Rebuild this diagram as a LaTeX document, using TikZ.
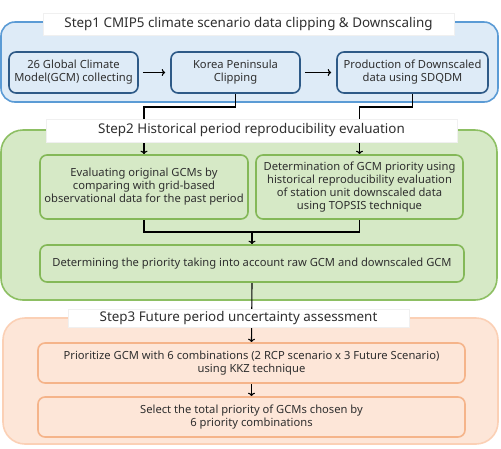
\documentclass[tikz,border=0pt]{standalone}
\usepackage{fontspec}
\setmainfont{Noto Sans}
\usetikzlibrary{arrows.meta}
\definecolor{bluefill}{HTML}{DEEBF7}
\definecolor{blueline}{HTML}{5B9BD5}
\definecolor{blueinner}{HTML}{2E5A87}
\definecolor{greenfill}{HTML}{D6E9C6}
\definecolor{greenline}{HTML}{8DBF63}
\definecolor{greeninner}{HTML}{84B858}
\definecolor{peachfill}{HTML}{FDE6D8}
\definecolor{peachline}{HTML}{FBD0B5}
\definecolor{peachinner}{HTML}{F5B48A}
\definecolor{txt}{HTML}{2F2F2F}
\pgfdeclarelayer{bg}
\pgfdeclarelayer{conn}
\pgfsetlayers{bg,conn,main}
\tikzset{
  bigbox/.style={draw, line width=1.6pt, inner sep=0pt, minimum width=#1},
  titlebox/.style={fill=white, draw=black!6, line width=0.6pt, inner sep=0pt, text=txt,
     font=\fontsize{13.4}{15}\selectfont},
  innerbox/.style={line width=1.6pt, inner sep=1pt, align=center, text=txt,
     font=\fontsize{11.2}{13}\selectfont, rounded corners=7pt},
  bluebox/.style={innerbox, draw=blueinner, fill=bluefill},
  greenbox/.style={innerbox, draw=greeninner, fill=greenfill},
  peachbox/.style={innerbox, draw=peachinner, fill=peachfill},
  conn/.style={line width=1.1pt, black},
  arr/.style={conn, -{To[length=3.5pt,width=7pt,line width=1.1pt]}}
}
\begin{document}
\begin{tikzpicture}[x=1pt,y=-1pt]
\useasboundingbox (0,0) rectangle (501,448);
% big boxes
\begin{pgfonlayer}{bg}
\node[bigbox=497pt, minimum height=80pt, draw=blueline, fill=bluefill, rounded corners=14pt] (B1) at (249.5,62) {};
\node[bigbox=496pt, minimum height=170pt, draw=greenline, fill=greenfill, rounded corners=22pt] (B2) at (249,215) {};
\node[bigbox=495pt, minimum height=126pt, draw=peachline, fill=peachfill, rounded corners=22pt] (B3) at (250.5,381) {};
\end{pgfonlayer}
% titles
\node[titlebox, minimum width=411pt, minimum height=22pt] (T1) at (248.5,24) {Step1 CMIP5 climate scenario data clipping \& Downscaling};
\node[titlebox, minimum width=411pt, minimum height=23pt] (T2) at (251.5,130.5) {Step2 Historical period reproducibility evaluation};
\node[titlebox, minimum width=341pt, minimum height=18pt] (T3) at (238.5,318.5) {Step3 Future period uncertainty assessment};
% step1 boxes
\node[bluebox, minimum width=129pt, minimum height=41pt] (A) at (73.5,72.5) {26 Global Climate\\Model(GCM) collecting};
\node[bluebox, minimum width=129pt, minimum height=41pt] (B) at (235.5,72.5) {Korea Peninsula\\Clipping};
\node[bluebox, minimum width=151pt, minimum height=41pt] (C) at (412.5,72.5) {Production of Downscaled\\data using SDQDM};
% step2 boxes
\node[greenbox, minimum width=208pt, minimum height=64pt] (L2) at (144,187) {Evaluating original GCMs by\\comparing with grid-based\\observational data for the past period};
\node[greenbox, minimum width=207pt, minimum height=64pt] (R2) at (359.5,187) {Determination of GCM priority using\\historical reproducibility evaluation\\of station unit downscaled data\\using TOPSIS technique};
\node[greenbox, minimum width=424pt, minimum height=37pt] (D2) at (252,263.5) {Determining the priority taking into account raw GCM and downscaled GCM};
% step3 boxes
\node[peachbox, minimum width=427pt, minimum height=40pt] (S3a) at (251.5,363) {Prioritize GCM with 6 combinations (2 RCP scenario x 3 Future Scenario)\\using KKZ technique};
\node[peachbox, minimum width=427pt, minimum height=40pt] (S3b) at (251.5,417) {Select the total priority of GCMs chosen by\\6 priority combinations};
% connectors
\coordinate (j1) at (144,107);
\coordinate (j2) at (359.5,107);
\coordinate (j3) at (252,232);
\begin{pgfonlayer}{conn}
\draw[arr, shorten <=4pt, shorten >=5pt] (A) -- (B);
\draw[arr, shorten <=4pt, shorten >=5pt] (B) -- (C);
\draw[arr] (B.south) |- (j1) -- (L2.north);
\draw[arr] (C.south) |- (j2) -- (R2.north);
\draw[conn] (L2.south) |- (j3) -| (R2.south);
\draw[arr] (j3) -- (D2.north);
\draw[arr] (D2.south) -- (S3a.north);
\draw[arr] (S3a.south) -- (S3b.north);
\end{pgfonlayer}
\end{tikzpicture}
\end{document}
